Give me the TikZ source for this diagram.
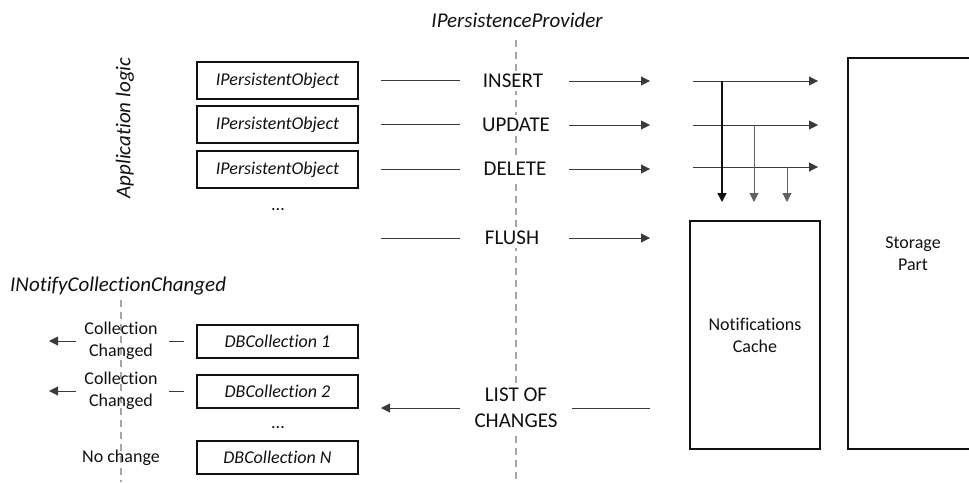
\documentclass[tikz,border=0pt]{standalone}
\usepackage{fontspec}
\setmainfont{Carlito}[RawFeature={-liga}]
\usetikzlibrary{arrows.meta}
\definecolor{ink}{HTML}{111111}
\definecolor{lin}{HTML}{3A3A3A}
\definecolor{dsh}{HTML}{A6A6A6}
\tikzset{
  big/.style={font=\fontsize{21}{25.6}\selectfont, text=ink, inner sep=0pt},
  bigit/.style={big, font=\fontsize{21}{25.6}\selectfont\itshape},
  sml/.style={font=\fontsize{18}{22}\selectfont, text=ink, inner sep=0pt, align=center},
  objbox/.style={draw=ink, line width=2pt, minimum width=161pt, minimum height=37pt, inner sep=0pt,
    font=\fontsize{18}{22}\selectfont\itshape, text=ink},
  dbbox/.style={objbox, minimum height=33pt},
  bigbox/.style={draw=ink, line width=2pt, minimum width=130pt, inner sep=0pt, align=center,
    font=\fontsize{18}{22}\selectfont, text=ink},
  oplabel/.style={big, fill=white, inner sep=3pt, align=center},
  conn/.style={draw=lin, line width=1pt},
  arr/.style={conn, -{Triangle[length=9pt, width=9pt]}},
  divider/.style={draw=dsh, line width=1.5pt, dash pattern=on 7pt off 5pt},
}
\begin{document}
\begin{tikzpicture}[x=1pt, y=-1pt]
\useasboundingbox (0,0) rectangle (969,482);

% dividers
\coordinate (d1t) at (516,40);
\coordinate (d1b) at (516,482);
\coordinate (d2t) at (121,300);
\coordinate (d2b) at (121,482);
\draw[divider] (d1t) -- (d1b);
\draw[divider] (d2t) -- (d2b);

% titles
\node[bigit] (prov) at (517,20) {IPersistenceProvider};
\node[bigit, rotate=90] (app) at (125,128) {Application logic};
\node[bigit, anchor=west] (inotify) at (10,286) {INotifyCollectionChanged};

% persistent objects
\node[objbox] (o1) at (277.5,80.5) {IPersistentObject};
\node[objbox] (o2) at (277.5,124.5) {IPersistentObject};
\node[objbox] (o3) at (277.5,169.5) {IPersistentObject};
\node[sml, anchor=base] (dots1) at (278,210) {...};

% operation labels
\node[oplabel] (ins) at (513,81) {INSERT};
\node[oplabel] (upd) at (516,125) {UPDATE};
\node[oplabel] (del) at (515,169) {DELETE};
\node[oplabel] (flu) at (512,238) {FLUSH};
\node[oplabel] (loc) at (516,408) {LIST OF\\CHANGES};

% boxes on right
\node[bigbox, minimum height=228pt] (nc) at (755,335) {Notifications\\Cache};
\node[bigbox, minimum height=391pt] (sp) at (913,253.5) {Storage\\Part};

% helper x positions
\coordinate (la) at (381,0);
\coordinate (lb) at (460,0);
\coordinate (ra) at (569,0);
\coordinate (rc) at (572,0);
\coordinate (rb) at (650,0);
\coordinate (fa) at (693,0);
\coordinate (fb) at (818,0);
\coordinate (v1) at (722,0);
\coordinate (v2) at (754,0);
\coordinate (v3) at (787,0);

% object -> operation lines
\draw[conn] (o1 -| la) -- (o1 -| lb);
\draw[conn] (o2 -| la) -- (o2 -| lb);
\draw[conn] (o3 -| la) -- (o3 -| lb);
\draw[conn] (flu -| la) -- (flu -| lb);

% operation -> arrows
\draw[arr] (ins -| ra) -- (ins -| rb);
\draw[arr] (upd -| ra) -- (upd -| rb);
\draw[arr] (del -| ra) -- (del -| rb);
\draw[arr] (flu -| ra) -- (flu -| rb);

% fan to storage
\draw[arr] (ins -| fa) -- (ins -| fb);
\draw[arr] (upd -| fa) -- (upd -| fb);
\draw[arr] ([yshift=2pt]del -| fa) -- ([yshift=2pt]del -| fb);

% fan down to cache
\draw[arr, line width=1.5pt, draw=ink, shorten >=18pt] (ins -| v1) -- (v1 |- nc.north);
\draw[arr, draw=lin!80, shorten >=18pt] (upd -| v2) -- (v2 |- nc.north);
\draw[arr, draw=lin!80, shorten >=18pt] ([yshift=2pt]del -| v3) -- (v3 |- nc.north);

% list of changes
\draw[conn] (loc -| rc) -- (loc -| rb);
\draw[arr] (loc -| lb) -- (loc -| la);

% collections
\node[dbbox] (db1) at (277.5,341.5) {DBCollection 1};
\node[dbbox] (db2) at (277.5,391.5) {DBCollection 2};
\node[sml, anchor=base] (dots2) at (278,428) {...};
\node[dbbox] (dbn) at (277.5,457.5) {DBCollection N};

\node[sml] (cc1) at (121,341) {Collection\\Changed};
\node[sml] (cc2) at (121,391) {Collection\\Changed};
\node[sml] (noc) at (121,458) {No change};

\coordinate (sa) at (169,0);
\coordinate (sb) at (184,0);
\coordinate (aa) at (76,0);
\coordinate (ab) at (49,0);
\draw[conn] (db1 -| sa) -- (db1 -| sb);
\draw[conn] (db2 -| sa) -- (db2 -| sb);
\draw[arr] (cc1 -| aa) -- (cc1 -| ab);
\draw[arr] (cc2 -| aa) -- (cc2 -| ab);
\end{tikzpicture}
\end{document}
